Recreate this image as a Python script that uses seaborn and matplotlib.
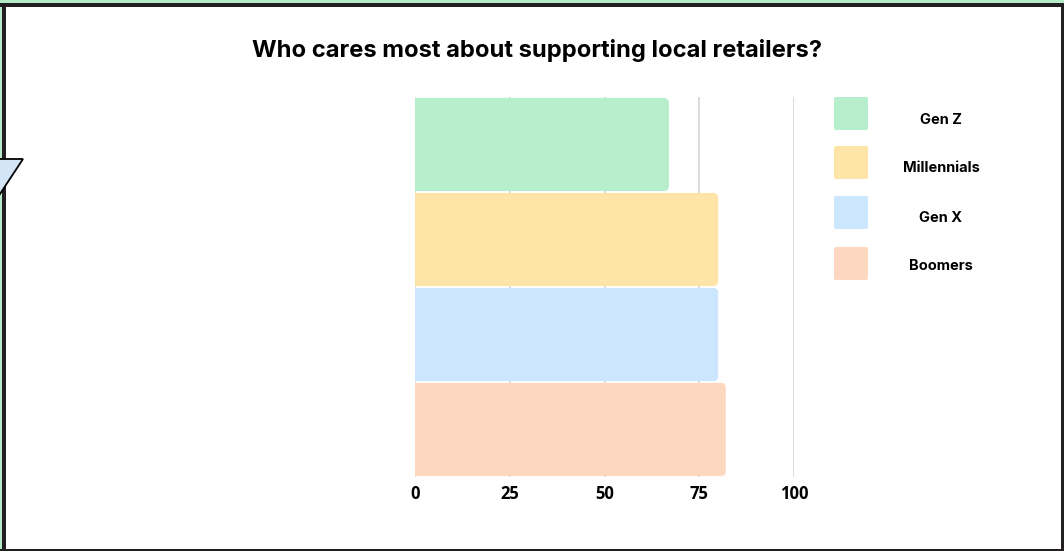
import matplotlib
matplotlib.use("Agg")
import matplotlib.pyplot as plt
from matplotlib.patches import FancyBboxPatch, Rectangle, Polygon
import seaborn as sns
import pandas as pd

# Survey data
generations = ["Gen Z", "Millennials", "Gen X", "Boomers"]
share_pct = [67, 80, 80, 82]
bar_colors = ["#b7eecb", "#fee4a7", "#cce6fd", "#fdd7c0"]
x_ticks = [0, 25, 50, 75, 100]
title = "Who cares most about supporting local retailers?"

W, H = 1064, 551
sns.set_theme(style="white")
plt.rcParams["font.family"] = ["Inter", "DejaVu Sans"]

fig = plt.figure(figsize=(W / 100, H / 100), dpi=100)
fig.patch.set_facecolor("white")


def px_rect(x, y, w, h, color, z=0):
    """Rectangle given in pixel coordinates measured from the top-left."""
    fig.patches.append(Rectangle((x / W, 1 - (y + h) / H), w / W, h / H,
                                 transform=fig.transFigure, facecolor=color,
                                 edgecolor="none", zorder=z))


# Frame: light green strip then a dark border
px_rect(0, 0, W, 3, "#b5ebc9")
px_rect(0, 0, 2, H, "#b5ebc9")
px_rect(0, 3, W, 4, "#231f20")
px_rect(2, 3, 4, H, "#231f20")
px_rect(W - 3, 3, 3, H, "#231f20")
px_rect(0, H - 2, W, 2, "#231f20")

# Speech-bubble tail poking in from the left edge
tail = [(-10, 159), (23, 159), (-4, 200)]
fig.patches.append(Polygon([(x / W, 1 - y / H) for x, y in tail],
                           closed=True, transform=fig.transFigure,
                           facecolor="#d4e5f7", edgecolor="black",
                           linewidth=1.3, zorder=5))

# Main bar axes
ax_l, ax_r, ax_t, ax_b = 415, 794, 97, 477
ax = fig.add_axes([ax_l / W, 1 - ax_b / H, (ax_r - ax_l) / W, (ax_b - ax_t) / H])
df = pd.DataFrame({"generation": generations, "share": share_pct})
sns.barplot(data=df, x="share", y="generation", hue="generation",
            palette=bar_colors, width=0.98, orient="h", legend=False,
            ax=ax, saturation=1)
ax.set_xlim(0, 100)
ax.set_ylim(len(generations) - 0.5, -0.5)

# Round the right-hand corners of each bar
x_per_px = 100 / (ax_r - ax_l)
y_per_px = len(generations) / (ax_b - ax_t)
r = 5 * x_per_px
aspect = y_per_px / x_per_px
for p in list(ax.patches):
    x0, y0, w, h = p.get_x(), p.get_y(), p.get_width(), p.get_height()
    fc = p.get_facecolor()
    p.remove()
    ax.add_patch(FancyBboxPatch((x0 - r, y0), w + r, h,
                                boxstyle=f"round,pad=0,rounding_size={r}",
                                mutation_aspect=aspect, facecolor=fc,
                                edgecolor="none", zorder=2))

ax.set_xticks(x_ticks)
ax.set_xticklabels([str(t) for t in x_ticks],
                   fontfamily=["Open Sans", "DejaVu Sans"],
                   fontweight="bold", fontsize=12, color="black")
ax.tick_params(axis="x", length=0, pad=6)
ax.set_yticks([])
ax.set_xlabel("")
ax.set_ylabel("")
ax.grid(axis="x", color="#d9d9d9", linewidth=1.3, zorder=0)
ax.set_axisbelow(True)
for s in ax.spines.values():
    s.set_visible(False)

# Title
fig.text(537 / W, 1 - 50 / H, title, ha="center", va="center",
         fontsize=17.1, fontweight="bold", color="black")

# Legend: swatch on the left, centred label on the right
lg_l, lg_r, lg_t, lg_b = 820, 1030, 90, 290
lax = fig.add_axes([lg_l / W, 1 - lg_b / H, (lg_r - lg_l) / W, (lg_b - lg_t) / H])
lax.set_xlim(lg_l, lg_r)
lax.set_ylim(lg_b, lg_t)
lax.axis("off")
sw_tops = [97, 146, 196, 247]
label_y = [120, 168, 218, 266]
for name, col, top, ty in zip(generations, bar_colors, sw_tops, label_y):
    lax.add_patch(FancyBboxPatch((834, top), 34, 33,
                                 boxstyle="round,pad=0,rounding_size=2",
                                 facecolor=col, edgecolor="none"))
    lax.text(941, ty, name, ha="center", va="center",
             fontsize=10.5, fontweight="bold", color="black")

fig.savefig("out.png", dpi=100)
